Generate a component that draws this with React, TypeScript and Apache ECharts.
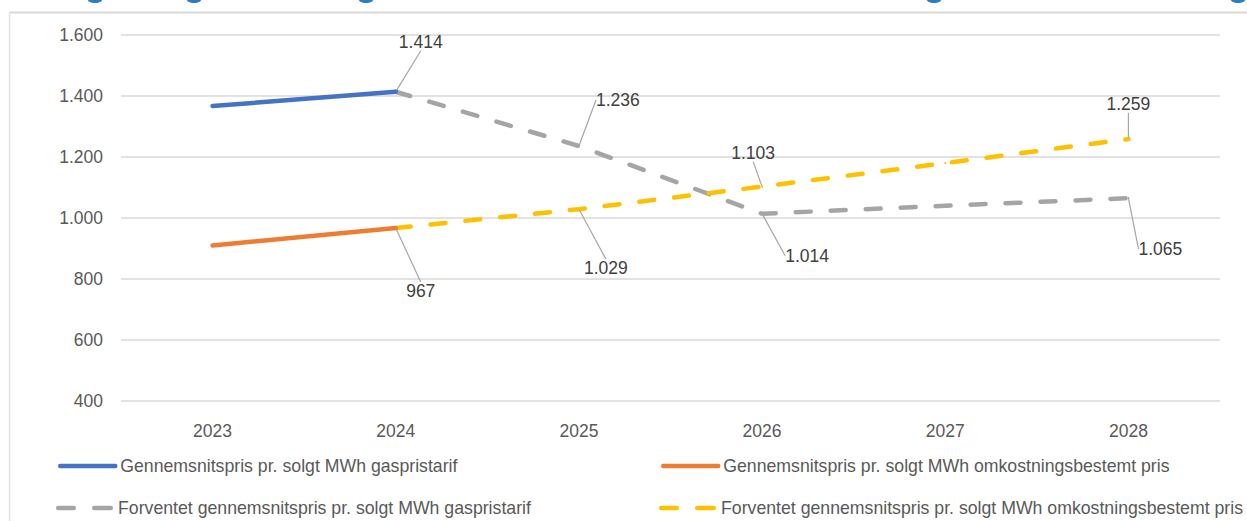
import React, { useEffect, useRef } from "react";
import * as echarts from "echarts";

const categories = ["2023", "2024", "2025", "2026", "2027", "2028"];
const actualGas = [1367, 1414, null, null, null, null];
const actualCost = [910, 967, null, null, null, null];
const forecastGas = [null, 1414, 1236, 1014, 1040, 1065];
const forecastCost = [null, 967, 1029, 1103, 1180, 1259];
const forecastGasLabelled = [false, true, true, true, false, true];
const forecastCostLabelled = [false, true, true, true, false, true];

const seriesNames = [
  "Gennemsnitspris pr. solgt MWh gaspristarif",
  "Gennemsnitspris pr. solgt MWh omkostningsbestemt pris",
  "Forventet gennemsnitspris pr. solgt MWh gaspristarif",
  "Forventet gennemsnitspris pr. solgt MWh omkostningsbestemt pris",
];

const FONT = "'Liberation Sans', Arial, sans-serif";

// label offsets (px) relative to the data point: [dx, dy]
const gasLabelOffsets: Record<number, [number, number]> = {
  1: [25, -50],
  2: [39, -46],
  3: [45, 42],
  5: [32, 51],
};
const costLabelOffsets: Record<number, [number, number]> = {
  1: [25, 63],
  2: [27, 59],
  3: [-9, -34],
  5: [0, -35],
};

const DASH_ICON =
  "path://M2.25,0 L17.75,0 A2.25,2.25 0 0 1 17.75,4.5 L2.25,4.5 A2.25,2.25 0 0 1 2.25,0 Z " +
  "M38.25,0 L54.75,0 A2.25,2.25 0 0 1 54.75,4.5 L38.25,4.5 A2.25,2.25 0 0 1 38.25,0 Z";

function fmt(v: number): string {
  const s = String(Math.round(v));
  return s.replace(/\B(?=(\d{3})+(?!\d))/g, ".");
}

function buildLabelled(values: (number | null)[], labelled: boolean[]) {
  return values.map((v, i) =>
    v === null ? null : { value: v, label: { show: labelled[i] }, labelLine: { show: labelled[i] } }
  );
}

export default function App() {
  const ref = useRef<HTMLDivElement>(null);
  useEffect(() => {
    if (!ref.current) return;
    const chart = echarts.init(ref.current, null, { renderer: "svg" });
    const legendBase = {
      itemWidth: 55,
      itemHeight: 14,
      textStyle: { fontFamily: FONT, fontSize: 17.7, color: "#595959" },
      itemGap: 0,
      itemStyle: { opacity: 0 },
    };
    const dashLegend = {
      itemWidth: 57,
      itemHeight: 4.5,
      textStyle: { fontFamily: FONT, fontSize: 17.7, color: "#595959" },
      itemGap: 0,
      icon: DASH_ICON,
      itemStyle: { opacity: 1, borderWidth: 0 },
    };
    const dash = [15, 20];
    const option: any = {
      animation: false,
      backgroundColor: "#ffffff",
      textStyle: { fontFamily: FONT },
      grid: {
        left: 121,
        right: 27,
        top: 35,
        bottom: 120,
        containLabel: false,
        outerBoundsMode: "none",
      },
      xAxis: {
        type: "category",
        data: categories,
        boundaryGap: true,
        axisLine: { show: false },
        axisTick: { show: false },
        axisLabel: { fontFamily: FONT, fontSize: 17.5, color: "#595959", margin: 21 },
      },
      yAxis: {
        type: "value",
        min: 400,
        max: 1600,
        interval: 200,
        axisLine: { show: false },
        axisTick: { show: false },
        splitLine: { lineStyle: { color: "#d9d9d9", width: 1.5 } },
        axisLabel: {
          fontFamily: FONT,
          fontSize: 17.5,
          color: "#595959",
          margin: 18,
          formatter: (v: number) => fmt(v),
        },
      },
      legend: [
        { ...legendBase, left: 53, top: 452, data: [seriesNames[0]], lineStyle: { type: "solid", cap: "round", width: 4.5 } },
        { ...legendBase, left: 656, top: 452, data: [seriesNames[1]], lineStyle: { type: "solid", cap: "round", width: 4.5 } },
        { ...dashLegend, left: 51, top: 494, data: [seriesNames[2]] },
        { ...dashLegend, left: 654, top: 494, data: [seriesNames[3]] },
      ],
      series: [
        {
          name: seriesNames[0],
          type: "line",
          data: actualGas,
          symbol: "none",
          itemStyle: { color: "#4472c4" },
          lineStyle: { color: "#4472c4", width: 4.5, cap: "round" },
          z: 3,
        },
        {
          name: seriesNames[1],
          type: "line",
          data: actualCost,
          symbol: "none",
          itemStyle: { color: "#ed7d31" },
          lineStyle: { color: "#ed7d31", width: 4.5, cap: "round" },
          z: 3,
        },
        {
          name: seriesNames[2],
          type: "line",
          data: buildLabelled(forecastGas, forecastGasLabelled),
          symbol: "circle",
          symbolSize: 2,
          itemStyle: { color: "#a5a5a5" },
          lineStyle: { color: "#a5a5a5", width: 4.5, type: dash, cap: "round" },
          label: {
            show: true,
            position: "inside",
            fontFamily: FONT,
            fontSize: 17.5,
            color: "#404040",
            formatter: (p: any) => fmt(p.value),
          },
          labelLine: { show: true, lineStyle: { color: "#a6a6a6", width: 1.2 } },
          labelLayout: (p: any) => {
            const o = gasLabelOffsets[p.dataIndex] || [0, 0];
            return { dx: o[0], dy: o[1] };
          },
          z: 2,
        },
        {
          name: seriesNames[3],
          type: "line",
          data: buildLabelled(forecastCost, forecastCostLabelled),
          symbol: "circle",
          symbolSize: 2,
          itemStyle: { color: "#ffc000" },
          lineStyle: { color: "#ffc000", width: 4.5, type: dash, cap: "round" },
          label: {
            show: true,
            position: "inside",
            fontFamily: FONT,
            fontSize: 17.5,
            color: "#404040",
            formatter: (p: any) => fmt(p.value),
          },
          labelLine: { show: true, lineStyle: { color: "#a6a6a6", width: 1.2 } },
          labelLayout: (p: any) => {
            const o = costLabelOffsets[p.dataIndex] || [0, 0];
            return { dx: o[0], dy: o[1] };
          },
          z: 2,
        },
      ],
      graphic: [
        { type: "line", shape: { x1: 10, y1: 12.5, x2: 1247, y2: 12.5 }, style: { stroke: "#d9d9d9", lineWidth: 2 } },
        { type: "line", shape: { x1: 9.5, y1: 12, x2: 9.5, y2: 521 }, style: { stroke: "#e3e3e3", lineWidth: 1.5 } },
        { type: "ellipse", shape: { cx: 95, cy: 0, rx: 7, ry: 3 }, style: { fill: "#2e7bc6" } },
        { type: "ellipse", shape: { cx: 194, cy: 0, rx: 7, ry: 3 }, style: { fill: "#2e7bc6" } },
        { type: "ellipse", shape: { cx: 366, cy: 0, rx: 7, ry: 3 }, style: { fill: "#2e7bc6" } },
        { type: "ellipse", shape: { cx: 934, cy: 0, rx: 7, ry: 3 }, style: { fill: "#2e7bc6" } },
        { type: "ellipse", shape: { cx: 1238, cy: 0, rx: 7, ry: 3 }, style: { fill: "#2e7bc6" } },
      ],
    };
    chart.setOption(option);
    return () => chart.dispose();
  }, []);
  return (
    <div
      ref={ref}
      style={{ position: "fixed", left: 0, top: 0, width: 1247, height: 521, background: "#fff" }}
    />
  );
}
